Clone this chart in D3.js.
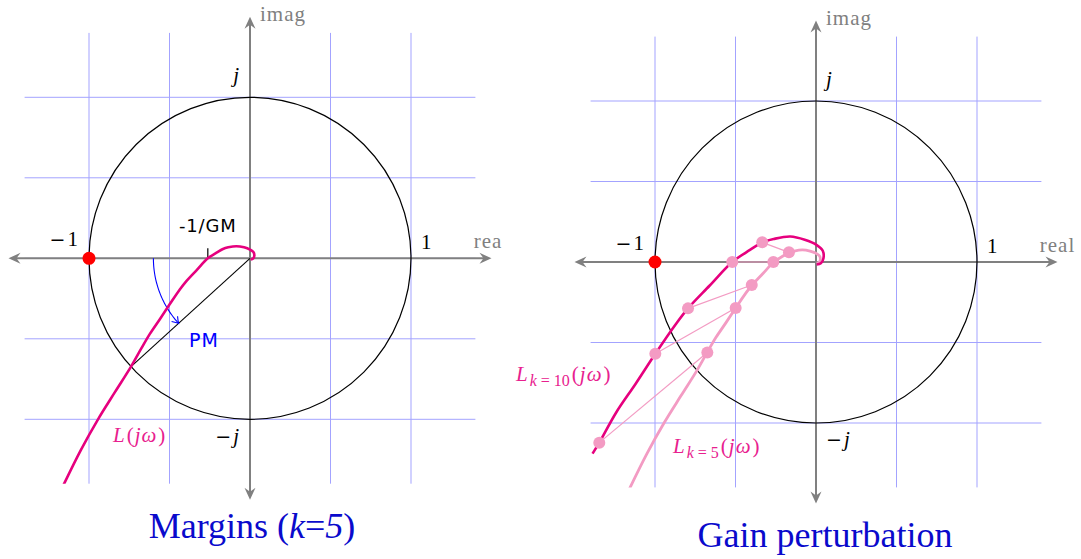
<!DOCTYPE html>
<html>
<head>
<meta charset="utf-8">
<script src="https://cdn.jsdelivr.net/npm/d3@7"></script>
<style>
  body { margin: 0; background: #fff; }
  svg { display: block; }
</style>
</head>
<body>
<svg id="chart" width="1081" height="559"></svg>
<script>
// Nyquist curve L(jω) for gain k = 5, as [real, imag] pairs (high ω near origin)
const loopK5 = [
  [0.004, -0.008], [0.019, -0.002], [0.027, 0.017], [0.021, 0.039], [0.0, 0.054],
  [-0.037, 0.068], [-0.085, 0.075], [-0.135, 0.068], [-0.168, 0.058], [-0.205, 0.037],
  [-0.262, 0.0], [-0.331, -0.073], [-0.399, -0.146], [-0.435, -0.192], [-0.499, -0.286],
  [-0.56, -0.378], [-0.621, -0.468], [-0.675, -0.56], [-0.739, -0.673], [-0.84, -0.833],
  [-0.944, -1.0], [-1.05, -1.19], [-1.152, -1.395], [-1.18, -1.455]
];

// Same loop with the gain doubled to k = 10
const loopK10 = [
  [0.004, -0.016], [0.03, -0.008], [0.046, 0.022], [0.042, 0.07], [0.005, 0.105],
  [-0.07, 0.138], [-0.16, 0.158], [-0.262, 0.143], [-0.334, 0.122], [-0.41, 0.075],
  [-0.52, 0.0], [-0.66, -0.146], [-0.795, -0.288], [-0.87, -0.385], [-0.998, -0.57],
  [-1.12, -0.756], [-1.242, -0.936], [-1.346, -1.122], [-1.388, -1.19]
];

// Matching frequency samples on the two loops
const samplesK10 = [[-0.334, 0.122], [-0.52, 0.0], [-0.795, -0.288], [-0.998, -0.57], [-1.346, -1.122]];
const samplesK5  = [[-0.168, 0.06], [-0.265, 0.0], [-0.399, -0.143], [-0.499, -0.286], [-0.675, -0.562]];

// Critical point, gain-margin crossing and phase-margin crossing
const criticalPoint = [-1, 0];
const gmCrossing = -0.262;
const pmPoint = [-0.739, -0.673];
const pmArcRadius = 0.6;

// Grid and axis labels
const gridValues = [-1, -0.5, 0, 0.5, 1];
const axisNames = ["real", "imag"];
const titles = ["Margins", "Gain perturbation"];

const U = 161;            // pixels per unit
const GRID = 1.4;         // grid half-extent
const AX = 1.5;           // axis half-extent
const MAGENTA = "#e6007e";
const PINK = "#f39bc3";
const LABEL_PINK = "#e8208e";
const GREY = "#808080";
const SERIF = "'Liberation Serif', 'Times New Roman', serif";
const WIDE_SERIF = "'DejaVu Serif', serif";
const SANS = "'DejaVu Sans', sans-serif";

const svg = d3.select("#chart");
const defs = svg.append("defs");

// Grey axis arrowhead
defs.append("marker")
  .attr("id", "axisHead")
  .attr("viewBox", "-13 -7 14 14")
  .attr("markerWidth", 14).attr("markerHeight", 14)
  .attr("refX", -7).attr("refY", 0)
  .attr("orient", "auto-start-reverse")
  .attr("markerUnits", "userSpaceOnUse")
  .append("path")
  .attr("d", "M0,0 L-12,-5.5 L-8,0 L-12,5.5 Z")
  .attr("fill", GREY);

// Thin blue arrowhead for the phase-margin arc
defs.append("marker")
  .attr("id", "pmHead")
  .attr("viewBox", "-8 -5 10 10")
  .attr("markerWidth", 10).attr("markerHeight", 10)
  .attr("refX", 0).attr("refY", 0)
  .attr("orient", "auto")
  .attr("markerUnits", "userSpaceOnUse")
  .append("path")
  .attr("d", "M-6,-4 Q-2,-1 0,0 Q-2,1 -6,4")
  .attr("fill", "none")
  .attr("stroke", "#0000ff")
  .attr("stroke-width", 1.1);

// Text built from pieces: italic, subscript, wide minus sign
function mathLabel(g, x, y, parts, opts = {}) {
  const t = g.append("text")
    .attr("x", x).attr("y", y)
    .attr("font-family", SERIF)
    .attr("font-size", opts.size || 21)
    .attr("fill", opts.color || "#000")
    .attr("text-anchor", opts.anchor || "start");
  let shifted = 0;
  parts.forEach(p => {
    const s = t.append("tspan").text(p.t);
    if (p.it) s.attr("font-style", "italic");
    if (p.wide) s.attr("font-family", WIDE_SERIF).attr("font-size", (opts.size || 21) - 2);
    if (p.dx) s.attr("dx", p.dx);
    const want = p.sub ? 5 : 0;
    if (want !== shifted) { s.attr("dy", want - shifted); shifted = want; }
    if (p.sub) s.attr("font-size", opts.subSize || 16);
  });
  return t;
}

function panel(ox, oy, clipId, clipRight) {
  const g = svg.append("g");
  if (clipRight) {
    defs.append("clipPath").attr("id", clipId + "-panel")
      .append("rect").attr("x", 0).attr("y", 0).attr("width", clipRight).attr("height", 559);
    g.attr("clip-path", `url(#${clipId}-panel)`);
  }
  const x = d3.scaleLinear().domain([-1, 1]).range([ox - U, ox + U]);
  const y = d3.scaleLinear().domain([-1, 1]).range([oy + U, oy - U]);

  // blue grid
  const grid = g.append("g").attr("stroke", "#a3a3ff").attr("stroke-width", 1);
  grid.selectAll("line.v").data(gridValues).join("line").attr("class", "v")
    .attr("x1", d => x(d)).attr("x2", d => x(d))
    .attr("y1", y(GRID)).attr("y2", y(-GRID));
  grid.selectAll("line.h").data(gridValues).join("line").attr("class", "h")
    .attr("y1", d => y(d)).attr("y2", d => y(d))
    .attr("x1", x(-GRID)).attr("x2", x(GRID));

  // axes with arrows on both ends
  g.append("line")
    .attr("x1", x(-AX) + 7).attr("x2", x(AX) - 7)
    .attr("y1", y(0)).attr("y2", y(0))
    .attr("stroke", GREY).attr("stroke-width", 2)
    .attr("marker-start", "url(#axisHead)").attr("marker-end", "url(#axisHead)");
  g.append("line")
    .attr("x1", x(0)).attr("x2", x(0))
    .attr("y1", y(AX) + 7).attr("y2", y(-AX) - 7)
    .attr("stroke", GREY).attr("stroke-width", 2)
    .attr("marker-start", "url(#axisHead)").attr("marker-end", "url(#axisHead)");

  // unit circle
  g.append("circle")
    .attr("cx", x(0)).attr("cy", y(0)).attr("r", x(1) - x(0))
    .attr("fill", "none").attr("stroke", "#000").attr("stroke-width", 1.2);

  // axis names and unit labels
  g.append("text").attr("x", x(0) + 10).attr("y", y(AX) + 4)
    .attr("font-family", SERIF).attr("font-size", 21).attr("letter-spacing", 1)
    .attr("fill", GREY).text(axisNames[1]);
  g.append("text").attr("x", x(1.39)).attr("y", y(0) - 10)
    .attr("font-family", SERIF).attr("font-size", 21).attr("letter-spacing", 1)
    .attr("fill", GREY).text(axisNames[0]);
  mathLabel(g, x(-1) - 11, y(0) - 12, [{ t: "\u2212", wide: true }, { t: "1", dx: 2 }], { anchor: "end" });
  mathLabel(g, x(1) + 10, y(0) - 9, [{ t: "1" }]);

  // curve clip = grid box
  defs.append("clipPath").attr("id", clipId)
    .append("rect").attr("x", x(-GRID)).attr("y", y(GRID))
    .attr("width", x(GRID) - x(-GRID)).attr("height", y(-GRID) - y(GRID));

  const line = d3.line().x(d => x(d[0])).y(d => y(d[1])).curve(d3.curveCatmullRom.alpha(0.5));
  return { g, x, y, line };
}

const jwParts = [{ t: "(", dx: 2 }, { t: "j", it: true, dx: 1 }, { t: "ω", it: true, dx: 1 }, { t: ")", dx: 2 }];

// ---------- left: margins at k = 5 ----------
{
  const { g, x, y, line } = panel(250, 258.3, "clipL", 502);

  mathLabel(g, x(0) - 11, y(1) - 15, [{ t: "j", it: true }], { anchor: "end" });
  mathLabel(g, x(0) - 11, y(-1) + 24, [{ t: "\u2212", wide: true }, { t: "j", it: true, dx: 2 }], { anchor: "end" });

  // gain-margin tick and label
  g.append("line")
    .attr("x1", x(gmCrossing)).attr("x2", x(gmCrossing))
    .attr("y1", y(0)).attr("y2", y(0) - 10)
    .attr("stroke", "#000").attr("stroke-width", 1.2);
  g.append("text").attr("x", x(gmCrossing)).attr("y", y(0) - 26)
    .attr("text-anchor", "middle").attr("font-family", SANS).attr("font-size", 18)
    .attr("letter-spacing", 0.8).text("-1/GM");

  // phase-margin ray and arc
  g.append("line")
    .attr("x1", x(0)).attr("y1", y(0)).attr("x2", x(pmPoint[0])).attr("y2", y(pmPoint[1]))
    .attr("stroke", "#000").attr("stroke-width", 1.1);
  const th0 = Math.PI;
  const th1 = 2 * Math.PI + Math.atan2(pmPoint[1], pmPoint[0]);
  const arcPts = d3.range(0, 1.0001, 0.025).map(t => {
    const th = th0 + t * (th1 - th0);
    return [pmArcRadius * Math.cos(th), pmArcRadius * Math.sin(th)];
  });
  g.append("path")
    .attr("d", d3.line().x(d => x(d[0])).y(d => y(d[1]))(arcPts))
    .attr("fill", "none").attr("stroke", "#0000ff").attr("stroke-width", 1.1)
    .attr("marker-end", "url(#pmHead)");
  g.append("text").attr("x", 189).attr("y", y(0) + 89)
    .attr("font-family", SANS).attr("font-size", 19).attr("letter-spacing", 1)
    .attr("fill", "#0000ff").text("PM");

  // Nyquist curve
  g.append("path").attr("clip-path", "url(#clipL)")
    .attr("d", line(loopK5))
    .attr("fill", "none").attr("stroke", MAGENTA).attr("stroke-width", 2.6)
    .attr("stroke-linejoin", "round");

  g.append("circle").attr("cx", x(criticalPoint[0])).attr("cy", y(criticalPoint[1]))
    .attr("r", 6.5).attr("fill", "#ff0000");

  mathLabel(g, x(0) - 137, y(-1) + 23, [{ t: "L", it: true }].concat(jwParts), { color: LABEL_PINK });

  const title = g.append("text").attr("x", x(0) + 2).attr("y", 538)
    .attr("text-anchor", "middle").attr("font-family", SERIF).attr("font-size", 36)
    .attr("fill", "#0a0acc");
  title.append("tspan").text(titles[0] + " (");
  title.append("tspan").attr("font-style", "italic").text("k");
  title.append("tspan").text("=");
  title.append("tspan").attr("font-style", "italic").text("5");
  title.append("tspan").text(")");
}

// ---------- right: gain perturbation ----------
{
  const { g, x, y, line } = panel(816, 262, "clipR", null);

  mathLabel(g, x(0) + 10, y(1) - 15, [{ t: "j", it: true }]);
  mathLabel(g, x(0) + 10, y(-1) + 23, [{ t: "\u2212", wide: true }, { t: "j", it: true, dx: 2 }]);

  g.append("path").attr("clip-path", "url(#clipR)")
    .attr("d", line(loopK5))
    .attr("fill", "none").attr("stroke", PINK).attr("stroke-width", 2.8)
    .attr("stroke-linejoin", "round");
  g.append("path").attr("clip-path", "url(#clipR)")
    .attr("d", line(loopK10))
    .attr("fill", "none").attr("stroke", MAGENTA).attr("stroke-width", 2.6)
    .attr("stroke-linejoin", "round");

  // links between equal-frequency samples
  g.selectAll("line.link").data(d3.zip(samplesK10, samplesK5)).join("line")
    .attr("class", "link")
    .attr("x1", d => x(d[0][0])).attr("y1", d => y(d[0][1]))
    .attr("x2", d => x(d[1][0])).attr("y2", d => y(d[1][1]))
    .attr("stroke", PINK).attr("stroke-width", 1.2);
  g.selectAll("circle.s").data(samplesK10.concat(samplesK5)).join("circle")
    .attr("class", "s")
    .attr("cx", d => x(d[0])).attr("cy", d => y(d[1])).attr("r", 6)
    .attr("fill", PINK);

  g.append("circle").attr("cx", x(criticalPoint[0])).attr("cy", y(criticalPoint[1]))
    .attr("r", 6.5).attr("fill", "#ff0000");

  mathLabel(g, x(0) - 300, y(0) + 119, [
    { t: "L", it: true }, { t: "k", it: true, sub: true, dx: 2 }, { t: "=", sub: true, dx: 4 },
    { t: "10", sub: true, dx: 4 }
  ].concat(jwParts), { color: LABEL_PINK });
  mathLabel(g, x(0) - 143, y(0) + 191, [
    { t: "L", it: true }, { t: "k", it: true, sub: true, dx: 2 }, { t: "=", sub: true, dx: 4 },
    { t: "5", sub: true, dx: 4 }
  ].concat(jwParts), { color: LABEL_PINK });

  g.append("text").attr("x", 825).attr("y", 547)
    .attr("text-anchor", "middle").attr("font-family", SERIF).attr("font-size", 36)
    .attr("fill", "#0a0acc").text(titles[1]);
}
</script>
</body>
</html>
